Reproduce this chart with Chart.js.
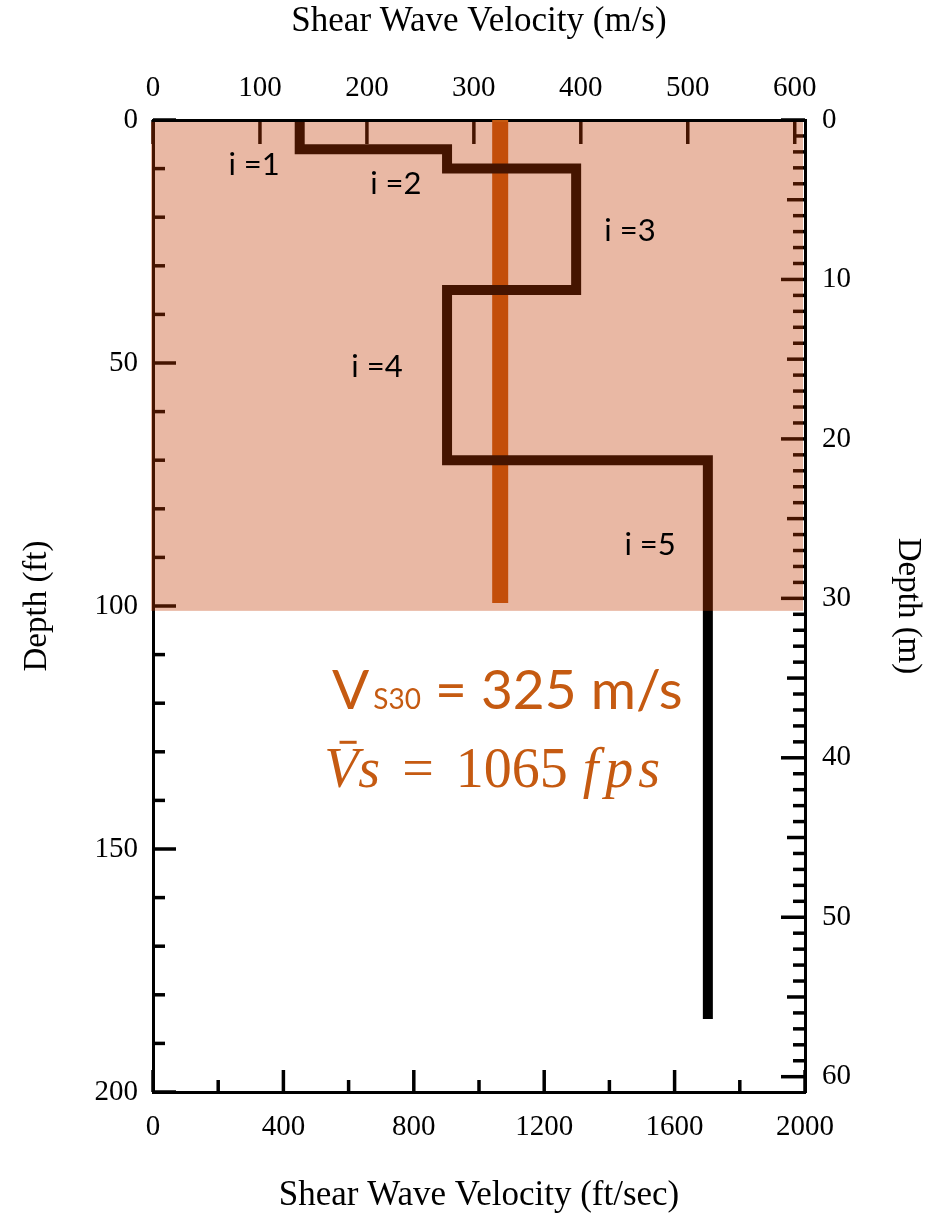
<!DOCTYPE html>
<html>
<head>
<meta charset="utf-8">
<title>Shear Wave Velocity Profile</title>
<script src="https://cdn.jsdelivr.net/npm/chart.js@4.4.1/dist/chart.umd.min.js"></script>
<style>
  html, body { margin: 0; padding: 0; background: #ffffff; }
  #wrap { width: 946px; height: 1213px; }
  canvas { display: block; }
</style>
</head>
<body>
<div id="wrap"><canvas id="profile" width="946" height="1213"></canvas></div>
<script>
// ---- Layered shear wave velocity profile (ft/sec vs depth in ft) ----
const layerLabels      = ['i =1', 'i =2', 'i =3', 'i =4', 'i =5'];
const layerTopsFt      = [0, 6, 10, 35, 70];
const layerBottomsFt   = [6, 10, 35, 70, 185];
const layerVelocityFps = [450, 902, 1298, 902, 1702];

// where each layer label sits (ft/sec, ft)
const labelXFps      = [310, 745, 1463, 687, 1525];
const labelDepthFt   = [9.3, 13.2, 22.8, 50.8, 87.4];

// time-averaged velocity over the top 30 m (100 ft)
const vs30Ms       = 325;
const vsBarFps     = 1065;
const vs30DepthFt  = [0, 99.4];
const shadedDepthFt = [0, 101];

// axis ticks
const ftTicks  = [0, 50, 100, 150, 200];
const fpsTicks = [0, 400, 800, 1200, 1600, 2000];
const msTicks  = [0, 100, 200, 300, 400, 500, 600];
const mTicks   = [0, 10, 20, 30, 40, 50, 60];

// minor tick spacing for the inward tick marks
const ftMinorStep  = 10;
const fpsMinorStep = 200;
const msMinorStep  = 100;
const mMinorStep   = 1;

const SERIF = "'Liberation Serif', 'Times New Roman', serif";
const SANS  = "Lato, 'Open Sans', sans-serif";

// staircase built from the layer table
function profilePoints() {
  const pts = [];
  layerVelocityFps.forEach((v, i) => {
    pts.push({ x: v, y: layerTopsFt[i] });
    pts.push({ x: v, y: layerBottomsFt[i] });
  });
  return pts;
}

// inward tick marks on all four sides
const innerTicks = {
  id: 'innerTicks',
  beforeDatasetsDraw(chart) {
    const { ctx, chartArea: a, scales } = chart;
    ctx.save();
    ctx.strokeStyle = '#000';
    ctx.lineWidth = 3.5;
    ctx.lineCap = 'butt';
    const seg = (x1, y1, x2, y2) => { ctx.beginPath(); ctx.moveTo(x1, y1); ctx.lineTo(x2, y2); ctx.stroke(); };

    for (let d = scales.y.min; d <= scales.y.max; d += ftMinorStep) {
      const y = scales.y.getPixelForValue(d);
      seg(a.left, y, a.left + (ftTicks.includes(d) ? 23 : 12), y);
    }
    for (let v = 0; v <= 2000; v += fpsMinorStep) {
      const x = scales.x.getPixelForValue(v);
      seg(x, a.bottom, x, a.bottom - (fpsTicks.includes(v) ? 22 : 12));
    }
    for (let v = 0; v <= 600; v += msMinorStep) {
      const x = scales.xTop.getPixelForValue(v);
      seg(x, a.top, x, a.top + 24);
    }
    for (let m = 0; m <= 60; m += mMinorStep) {
      const y = scales.yRight.getPixelForValue(m);
      const len = m % 10 === 0 ? 24 : (m % 5 === 0 ? 18 : 12);
      seg(a.right, y, a.right - len, y);
    }
    ctx.restore();
  }
};

// text runs drawn one after another along a baseline
function drawRuns(ctx, x, y, runs, color) {
  ctx.fillStyle = color;
  ctx.textBaseline = 'alphabetic';
  ctx.textAlign = 'left';
  runs.forEach(r => {
    ctx.font = r.font;
    x += r.gap || 0;
    ctx.fillText(r.text, x, y);
    const w = ctx.measureText(r.text).width;
    if (r.bar) {
      ctx.fillRect(x + w * r.bar[0], y - r.bar[2], w * (r.bar[1] - r.bar[0]), 3);
    }
    x += w;
  });
}

// upper 100 ft shading, layer labels and the averaged-velocity notes
const overlayAndNotes = {
  id: 'overlayAndNotes',
  afterDatasetsDraw(chart) {
    const { ctx, chartArea: a, scales } = chart;
    const yTop = scales.y.getPixelForValue(shadedDepthFt[0]);
    const yBot = scales.y.getPixelForValue(shadedDepthFt[1]);
    ctx.save();
    ctx.fillStyle = 'rgba(192, 56, 0, 0.355)';
    ctx.fillRect(a.left - 2, yTop + 2, (a.right - 2) - (a.left - 2), yBot - yTop - 2);

    ctx.fillStyle = '#000';
    ctx.font = '31px ' + SANS;
    ctx.textAlign = 'center';
    ctx.textBaseline = 'middle';
    layerLabels.forEach((t, i) => {
      ctx.fillText(t, scales.x.getPixelForValue(labelXFps[i]), scales.y.getPixelForValue(labelDepthFt[i]));
    });

    const noteColor = '#C55A11';
    drawRuns(ctx, scales.x.getPixelForValue(549), scales.y.getPixelForValue(121.2), [
      { text: 'V',   font: '55px ' + SANS },
      { text: 'S30', font: '28px ' + SANS, gap: 4 },
      { text: ' = ' + vs30Ms + ' m/s', font: '55px ' + SANS }
    ], noteColor);

    const it = 'italic 56px ' + SERIF;
    drawRuns(ctx, scales.x.getPixelForValue(525), scales.y.getPixelForValue(137.2), [
      { text: 'V', font: it, bar: [0.45, 0.95, 46] },
      { text: 's', font: it, gap: 0 },
      { text: '=', font: '56px ' + SERIF, gap: 22 },
      { text: String(vsBarFps), font: '56px ' + SERIF, gap: 22 },
      { text: 'f', font: it, gap: 15 },
      { text: 'p', font: it, gap: 7 },
      { text: 's', font: it, gap: 5 }
    ], noteColor);
    ctx.restore();
  }
};

function fixedTicks(list) {
  return scale => { scale.ticks = list.map(v => ({ value: v })); };
}

const tickFont = { family: SERIF, size: 29 };
const titleFontH = { family: SERIF, size: 35, lineHeight: 1 };
const titleFontV = { family: SERIF, size: 33, lineHeight: 1 };

function build() {
  new Chart(document.getElementById('profile'), {
    type: 'scatter',
    data: {
      datasets: [
        {
          label: 'Layered profile',
          data: profilePoints(),
          showLine: true,
          borderColor: '#000000',
          borderWidth: 10,
          borderJoinStyle: 'miter',
          borderCapStyle: 'butt',
          pointRadius: 0,
          xAxisID: 'x',
          yAxisID: 'y'
        },
        {
          label: 'Vs30',
          data: vs30DepthFt.map(d => ({ x: vsBarFps, y: d })),
          showLine: true,
          borderColor: '#C55A11',
          borderWidth: 16,
          borderCapStyle: 'butt',
          pointRadius: 0,
          xAxisID: 'x',
          yAxisID: 'y'
        }
      ]
    },
    options: {
      responsive: false,
      animation: false,
      devicePixelRatio: 1,
      layout: { padding: 0 },
      plugins: { legend: { display: false }, tooltip: { enabled: false } },
      scales: {
        x: {
          type: 'linear', position: 'bottom', min: 0, max: 2000,
          afterBuildTicks: fixedTicks(fpsTicks),
          afterFit: s => { s.height = 121; },
          grid: { display: false },
          border: { display: true, color: '#000', width: 3 },
          ticks: { font: tickFont, color: '#000', padding: 10, maxRotation: 0, autoSkip: false, callback: v => String(v) },
          title: { display: true, text: 'Shear Wave Velocity (ft/sec)', font: titleFontH, color: '#000', padding: { top: 0, bottom: 0 } }
        },
        xTop: {
          type: 'linear', position: 'top', min: 0, max: 609.6,
          afterBuildTicks: fixedTicks(msTicks),
          afterFit: s => { s.height = 120; },
          grid: { display: false },
          border: { display: true, color: '#000', width: 3 },
          ticks: { font: tickFont, color: '#000', padding: 6, maxRotation: 0, autoSkip: false, callback: v => String(v) },
          title: { display: true, text: 'Shear Wave Velocity (m/s)', font: titleFontH, color: '#000', padding: { top: 4, bottom: 0 } }
        },
        y: {
          type: 'linear', position: 'left', reverse: true, min: 0, max: 200,
          afterBuildTicks: fixedTicks(ftTicks),
          afterFit: s => { s.width = 153; },
          grid: { display: false },
          border: { display: true, color: '#000', width: 3 },
          ticks: { font: tickFont, color: '#000', padding: 7, autoSkip: false, callback: v => String(v) },
          title: { display: true, text: 'Depth (ft)', font: titleFontV, color: '#000', padding: { top: 21, bottom: 0 } }
        },
        yRight: {
          type: 'linear', position: 'right', reverse: true, min: 0, max: 60.96,
          afterBuildTicks: fixedTicks(mTicks),
          afterFit: s => { s.width = 141; },
          grid: { display: false },
          border: { display: true, color: '#000', width: 3 },
          ticks: { font: tickFont, color: '#000', padding: 9, autoSkip: false, callback: v => String(v) },
          title: { display: true, text: 'Depth (m)', font: titleFontV, color: '#000', padding: { top: 22, bottom: 0 } }
        }
      }
    },
    plugins: [innerTicks, overlayAndNotes]
  });
}

const fontsReady = document.fonts
  ? Promise.all([
      document.fonts.load("29px 'Liberation Serif'"),
      document.fonts.load("italic 56px 'Liberation Serif'"),
      document.fonts.load('31px Lato')
    ]).catch(() => {})
  : Promise.resolve();
fontsReady.then(build);
</script>
</body>
</html>
